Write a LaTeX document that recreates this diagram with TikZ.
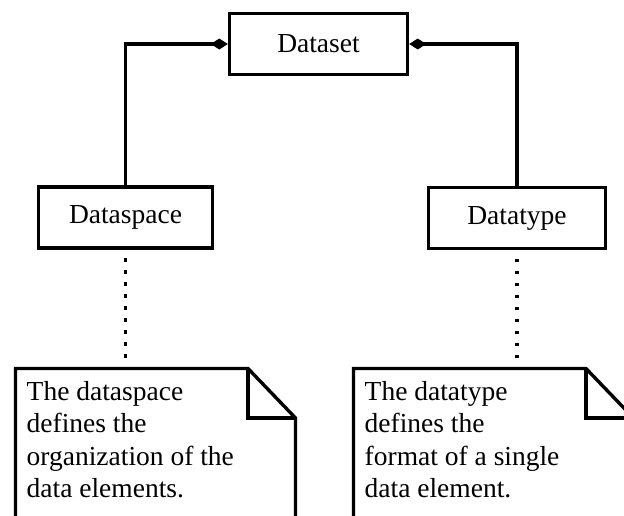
\documentclass[tikz,border=0pt]{standalone}
\usepackage{fontspec}
\setmainfont{Liberation Serif}
\usepackage{tikz}
\usetikzlibrary{arrows.meta, calc}

\begin{document}
\begin{tikzpicture}[x=1pt, y=-1pt,
    obj/.style={rectangle, draw=black, line width=3.4pt, fill=white,
                minimum width=176pt, minimum height=61pt,
                font=\fontsize{27.5pt}{33pt}\selectfont},
    agg/.style={{Diamond[length=17pt, width=11pt]}-, line width=3.4pt},
    dep/.style={line width=3.4pt, dash pattern=on 3.4pt off 8.6pt, dash phase=3.4pt},
    notebox/.style={line width=3.4pt, line join=miter},
    notetxt/.style={align=left, inner sep=0pt, anchor=north west,
                    font=\fontsize{27.5pt}{32.5pt}\selectfont}
  ]
  \useasboundingbox (0,0) rectangle (624,515);
  \clip (0,0) rectangle (624,515);
  % Classes
  \node[obj, minimum width=178pt] (dataset) at (318.5, 44) {Dataset};
  \node[obj, minimum width=174pt] (dataspace) at (125.5, 217.5) {Dataspace};
  \node[obj, minimum width=177pt] (datatype) at (517, 218) {Datatype};
  % Aggregation links
  \draw[agg] (dataset.west) -| (dataspace.north);
  \draw[agg] (dataset.east) -| (datatype.north);
  % Notes
  \foreach \nm/\x/\cls/\txt in {dsnote/15.5/dataspace/{The dataspace\\defines the\\organization of the\\data elements.},
                                dtnote/353.5/datatype/{The datatype\\defines the\\format of a single\\data element.}} {
    \coordinate (\nm) at (\x, 368.5);
    \draw[notebox] ($(\nm)+(0,165)$) |- ($(\nm)+(232.5,0)$)
                   -- ($(\nm)+(280,49.5)$) -- ($(\nm)+(280,165)$);
    \draw[notebox] ($(\nm)+(232.5,0)$) |- ($(\nm)+(280,49.5)$);
    \node[notetxt] (\nm txt) at ($(\nm)+(11,12.5)$) {\txt};
    \draw[dep] (\cls.south) -- ($(\cls.south |- \nm)+(0,-10)$);
  }
\end{tikzpicture}
\end{document}
